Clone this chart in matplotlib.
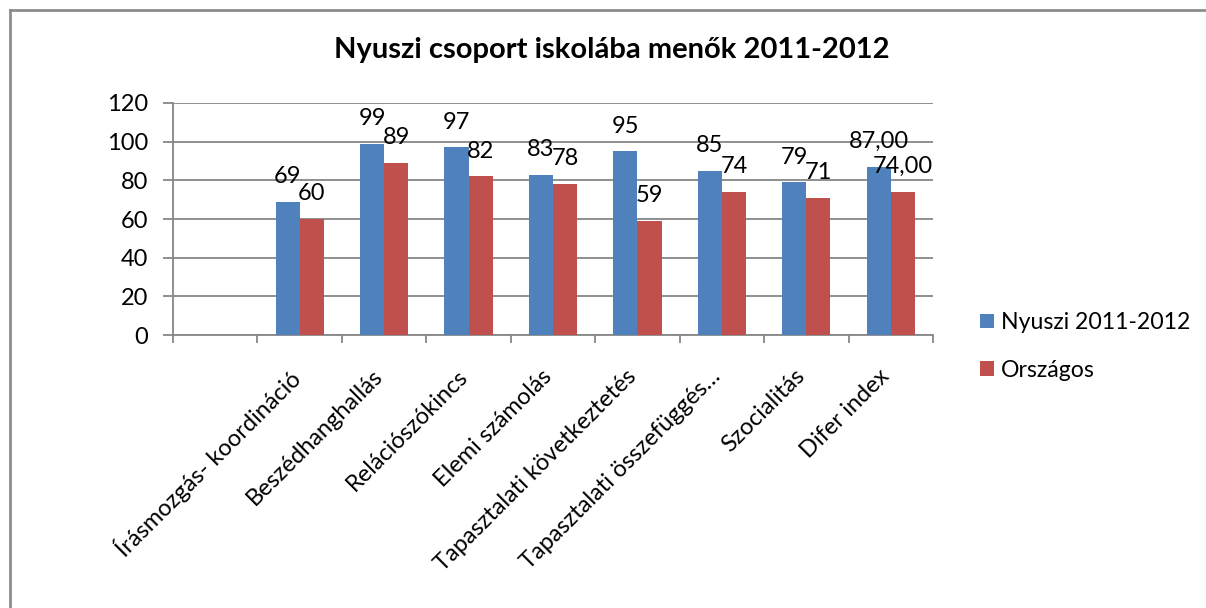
import matplotlib
matplotlib.use("Agg")
import matplotlib.pyplot as plt
import matplotlib.transforms as mtransforms
import numpy as np
from matplotlib.lines import Line2D

plt.rcParams['font.family'] = ['Lato', 'DejaVu Sans']

title = "Nyuszi csoport iskolába menők 2011-2012"
categories = ["", "Írásmozgás- koordináció", "Beszédhanghallás", "Relációszókincs",
              "Elemi számolás", "Tapasztalati következtetés", "Tapasztalati összefüggés…",
              "Szocialitás", "Difer index"]
series_names = ["Nyuszi 2011-2012", "Országos"]
nyuszi = [np.nan, 69, 99, 97, 83, 95, 85, 79, 87]
orszagos = [np.nan, 60, 89, 82, 78, 59, 74, 71, 74]
nyuszi_labels = ["", "69", "99", "97", "83", "95", "85", "79", "87,00"]
orszagos_labels = ["", "60", "89", "82", "78", "59", "74", "71", "74,00"]
yticks = [0, 20, 40, 60, 80, 100, 120]

W, H = 1206, 608
fig = plt.figure(figsize=(W / 100, H / 100), dpi=100)
ax = fig.add_axes([173 / W, 1 - 335 / H, 760 / W, 232 / H])

blue = "#4F81BD"
red = "#C0504D"
grid = "#878787"

x = np.arange(len(categories))
bw = 0.285
b1 = ax.bar(x - bw / 2, nyuszi, bw, color=blue, label=series_names[0], zorder=3)
b2 = ax.bar(x + bw / 2, orszagos, bw, color=red, label=series_names[1], zorder=3)

fs = 17
for xi, v, lab in zip(x - bw / 2, nyuszi, nyuszi_labels):
    if lab:
        ax.annotate(lab, (xi, v), xytext=(0, 13.5), textcoords="offset points",
                    ha="center", va="baseline", fontsize=fs, color="black", zorder=4)
for xi, v, lab in zip(x + bw / 2, orszagos, orszagos_labels):
    if lab:
        ax.annotate(lab, (xi, v), xytext=(0, 13.5), textcoords="offset points",
                    ha="center", va="baseline", fontsize=fs, color="black", zorder=4)

ax.set_xlim(-0.5, len(categories) - 0.5)
ax.set_ylim(0, 120)
ax.set_yticks(yticks)
ax.set_yticklabels([str(t) for t in yticks], fontsize=fs)
ax.yaxis.grid(True, color=grid, linewidth=1.3, zorder=0)
ax.set_axisbelow(True)

ax.set_xticks(np.arange(len(categories) + 1) - 0.5, minor=False)
ax.set_xticklabels([])
ax.set_xticks(x, minor=True)
ax.set_xticklabels(categories, minor=True, rotation=45, ha="right", va="top",
                   rotation_mode="anchor", fontsize=fs)
ax.tick_params(axis="x", which="minor", length=0, pad=22)
ax.tick_params(axis="x", which="major", length=6, color=grid, width=1.3, direction="out")
ax.tick_params(axis="y", length=7, color=grid, width=1.3, direction="out", pad=11)

shift = mtransforms.ScaledTranslation(-12 / 100, 0, fig.dpi_scale_trans)
for lbl in ax.get_xticklabels(minor=True):
    lbl.set_transform(lbl.get_transform() + shift)

for s in ["top", "right"]:
    ax.spines[s].set_visible(False)
for s in ["left", "bottom"]:
    ax.spines[s].set_color(grid)
    ax.spines[s].set_linewidth(1.3)

fig.text(612 / W, 1 - 50 / H, title, ha="center", va="center", fontsize=21,
         fontweight="bold")

leg = fig.legend(handles=[b1, b2], labels=series_names, loc="upper left",
                 bbox_to_anchor=(971 / W, 1 - 303 / H), frameon=False, fontsize=16.6,
                 handlelength=0.6, handleheight=0.6, handletextpad=0.3,
                 labelspacing=1.15, borderaxespad=0)

fig.add_artist(Line2D([9.5 / W, 9.5 / W], [0, 1 - 10 / H], color="#8c8c8c", linewidth=2,
                      transform=fig.transFigure))
fig.add_artist(Line2D([9.5 / W, 1], [1 - 10 / H, 1 - 10 / H], color="#8c8c8c", linewidth=2,
                      transform=fig.transFigure))

fig.savefig("out.png", dpi=100)
